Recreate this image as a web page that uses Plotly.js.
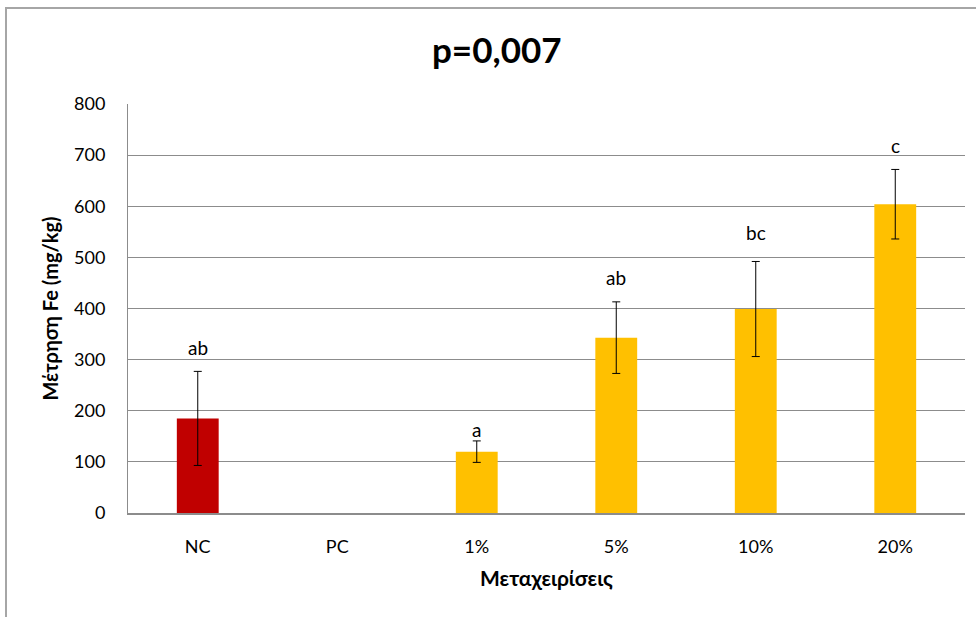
<!DOCTYPE html>
<html>
<head>
<meta charset="utf-8">
<script src="https://cdn.plot.ly/plotly-3.0.1.min.js"></script>
<style>
  html, body { margin: 0; padding: 0; background: #fff; }
  #chart { width: 976px; height: 617px; position: relative; }
  #frame { position: absolute; left: 5px; top: 7px; width: 971px; height: 610px;
           border-left: 2px solid #a6a6a6; border-top: 2px solid #a6a6a6; pointer-events: none; }
</style>
</head>
<body>
<div id="chart"><div id="frame"></div></div>
<script>
const categories = ['NC', 'PC', '1%', '5%', '10%', '20%'];
const means = [185, null, 120, 343, 399, 604];
const errors = [92, null, 21, 70, 93, 68];
const letters = ['ab', '', 'a', 'ab', 'bc', 'c'];
const letterY = [323, null, 163, 461, 548, 718];
const barColors = ['#C00000', '#FFC000', '#FFC000', '#FFC000', '#FFC000', '#FFC000'];

const font = 'Lato, "Open Sans", sans-serif';

const trace = {
  type: 'bar',
  x: categories,
  y: means,
  marker: { color: barColors },
  error_y: { type: 'data', array: errors, visible: true, color: '#000', thickness: 1, width: 4 },
  hoverinfo: 'x+y'
};

const annotations = [];
categories.forEach((c, i) => {
  if (letters[i]) {
    annotations.push({
      x: c, y: letterY[i], xref: 'x', yref: 'y', text: letters[i], showarrow: false,
      font: { family: font, size: 19, color: '#000' }, yanchor: 'middle'
    });
  }
});

const layout = {
  width: 976, height: 617,
  margin: { l: 128, r: 11, t: 104, b: 104 },
  paper_bgcolor: 'rgba(0,0,0,0)',
  plot_bgcolor: '#fff',
  bargap: 0.7,
  showlegend: false,
  title: { text: '<b>p=0,007</b>', x: 0.509, xref: 'container', xanchor: 'center',
           y: 0.917, yanchor: 'middle',
           font: { family: font, size: 35, color: '#000' } },
  xaxis: {
    type: 'category',
    showline: true, linecolor: '#8c8c8c', linewidth: 2,
    ticks: '', tickfont: { family: font, size: 18, color: '#000' },
    ticklabelstandoff: 16,
    title: { text: '<b>Μεταχειρίσεις</b>', font: { family: font, size: 21, color: '#000' }, standoff: 16 }
  },
  yaxis: {
    range: [0, 800], dtick: 100,
    showgrid: true, gridcolor: '#8c8c8c', gridwidth: 1,
    showline: true, linecolor: '#8c8c8c', linewidth: 1,
    zeroline: false,
    ticks: '', tickfont: { family: font, size: 18, color: '#000' },
    ticklabelstandoff: 18,
    title: { text: '<b>Μέτρηση Fe (mg/kg)</b>', font: { family: font, size: 20, color: '#000' }, standoff: 10 }
  },
  annotations: annotations
};

Plotly.newPlot('chart', [trace], layout, { displayModeBar: false, staticPlot: true });
</script>
</body>
</html>
